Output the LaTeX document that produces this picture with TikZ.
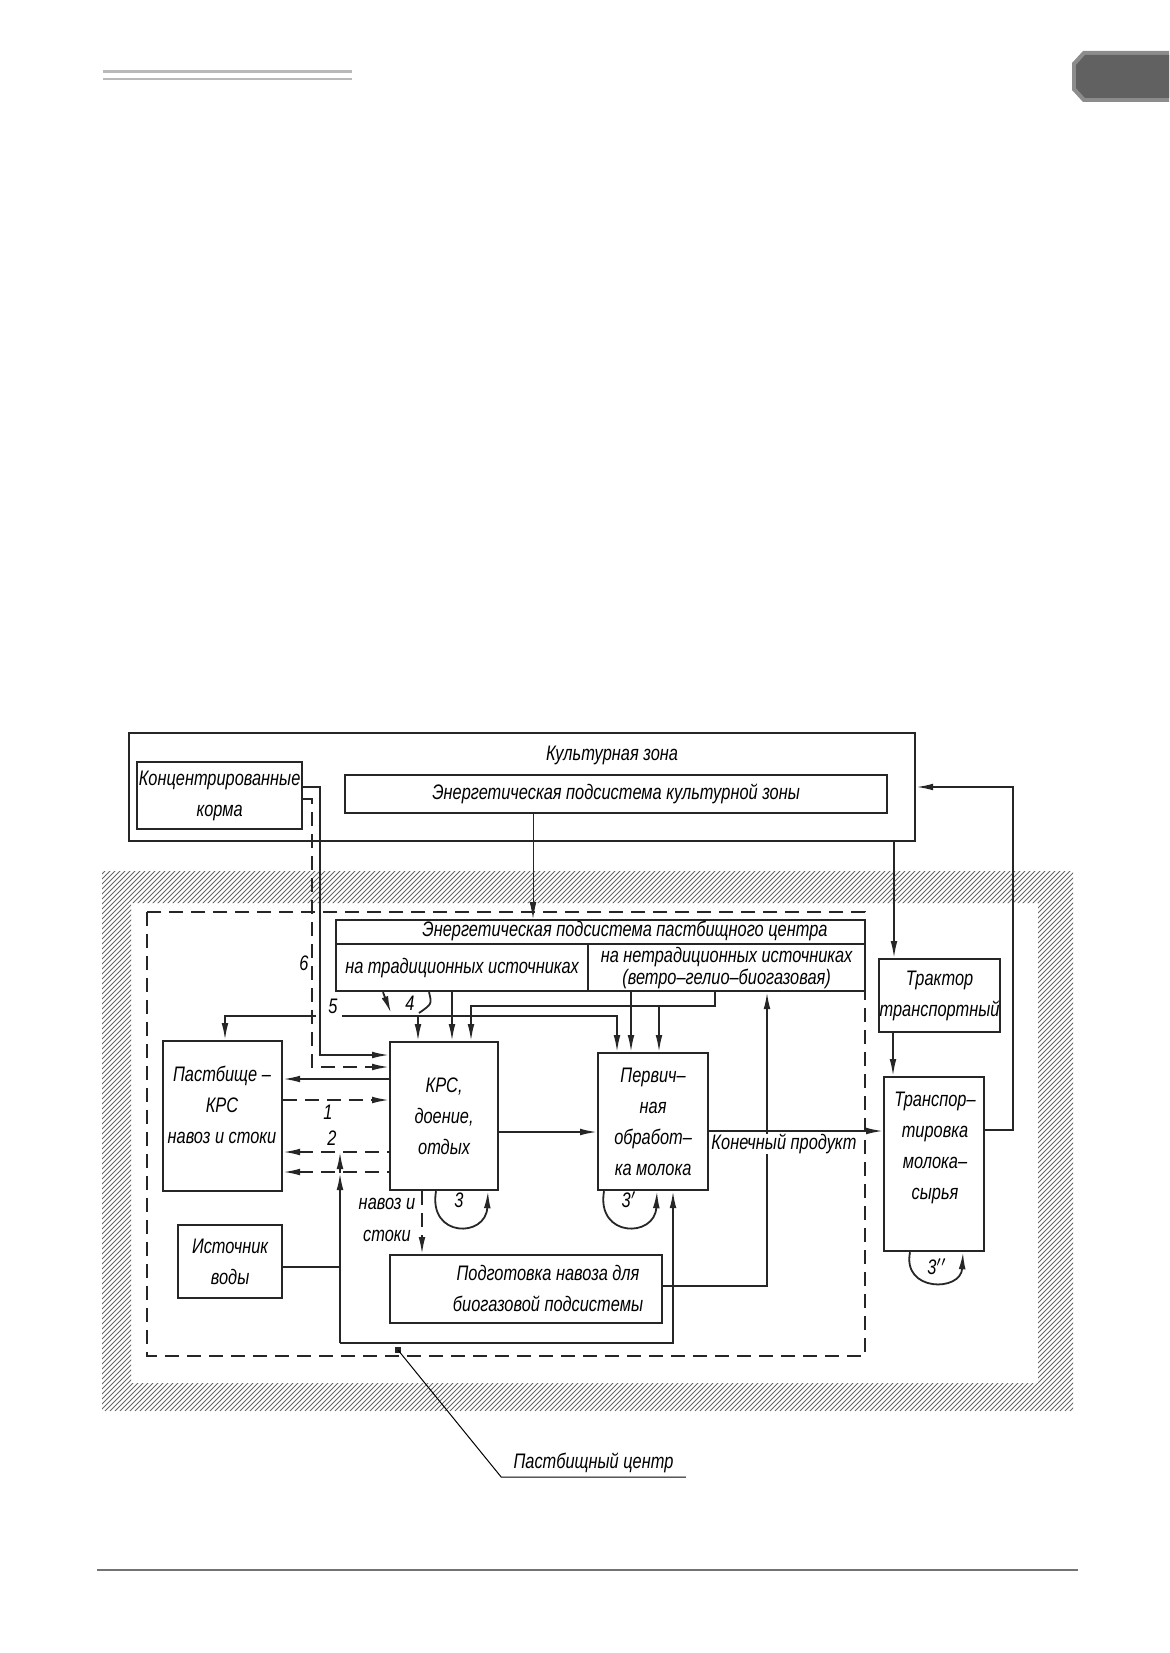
\documentclass[tikz,border=0pt]{standalone}
\usepackage{fontspec}
\newfontfamily\gost{Liberation Sans}[FakeStretch=0.78]
\newcommand{\gostfont}{\gost\itshape\fontsize{10.5}{15.5}\selectfont}
\usetikzlibrary{arrows.meta}

\tikzset{
  blok/.style={draw=black!85, line width=1.1pt, anchor=north west, inner sep=0pt,
    align=center, font=\gostfont},
  lbl/.style={font=\gostfont, inner sep=1pt, align=center},
  ln/.style={draw=black!85, line width=0.9pt},
  arr/.style={ln, -{Latex[length=8.5pt,width=3.4pt]}},
  dsh/.style={dash pattern=on 7pt off 4pt},
  hatch/.style={draw=black!60, line width=0.4pt},
}

\begin{document}
\begin{tikzpicture}[x=0.5pt,y=-0.5pt]
  \useasboundingbox (0,0) rectangle (1169,1653);

  % page decoration
  \draw[gray!55, line width=1.5pt] (103,72) -- (352,72);
  \draw[gray!55, line width=1pt] (103,79) -- (352,79);
  \fill[black!45] (1083,51) -- (1169,51) -- (1169,102) -- (1083,102) -- (1072,90) -- (1072,63) -- cycle;
  \fill[black!62] (1085,55) -- (1169,55) -- (1169,98) -- (1085,98) -- (1076,88) -- (1076,65) -- cycle;
  \draw[black!55, line width=1.3pt] (97,1570) -- (1078,1570);

  % hatched border of the pasture centre
  \begin{scope}[even odd rule]
    \clip (102,871) rectangle (1073,1411) (131,903) rectangle (1038,1383);
    \foreach \k in {0,...,310}
      \draw[hatch] ({-440+5*\k},1411) -- ++(545,-545);
  \end{scope}
  \draw[ln, dsh, line width=1pt] (147,912) rectangle (865,1356);

  % cultural zone
  \node[blok, minimum width=393pt, minimum height=54pt] (cult) at (128,732) {};
  \node[lbl] (cultlbl) at (612,755) {Культурная зона};
  \node[blok, minimum width=82.5pt, minimum height=33.5pt] (konc) at (136,761) {Концентрированные\\корма};
  \node[blok, minimum width=271pt, minimum height=19pt] (encult) at (344,774) {Энергетическая подсистема культурной зоны};

  % energy subsystem of the pasture centre
  \node[blok, minimum width=264.5pt, minimum height=12pt] (entitle) at (335,919) {};
  \node[lbl] (entitlelbl) at (625,931) {Энергетическая подсистема пастбищного центра};
  \node[blok, minimum width=126pt, minimum height=23.5pt] (entrad) at (335,943) {на традиционных источниках};
  \node[blok, minimum width=138.5pt, minimum height=23.5pt] (ennetrad) at (587,943)
    {на нетрадиционных источниках\\[-4.5pt](ветро–гелио–биогазовая)};

  % blocks
  \node[blok, minimum width=59.5pt, minimum height=75pt] (past) at (162,1040) {};
  \node[lbl] (pastlbl) at (222,1105) {Пастбище –\\КРС\\навоз и стоки};
  \node[blok, minimum width=54pt, minimum height=74pt] (krs) at (389,1041) {КРС,\\доение,\\отдых};
  \node[blok, minimum width=55pt, minimum height=68.5pt] (perv) at (597,1052) {Первич–\\ная\\обработ–\\ка молока};
  \node[blok, minimum width=52pt, minimum height=36.5pt] (water) at (177,1224) {Источник\\воды};
  \node[blok, minimum width=136pt, minimum height=34pt] (podg) at (389,1254) {};
  \node[lbl] (podglbl) at (548,1288) {Подготовка навоза для\\биогазовой подсистемы};
  \node[blok, minimum width=60.5pt, minimum height=36.5pt] (tract) at (878,958) {Трактор\\транспортный};
  \node[blok, minimum width=50pt, minimum height=87pt] (trans) at (883,1076) {};
  \node[lbl] (translbl) at (935,1148) {Транспор–\\тировка\\молока–\\сырья};

  % feed (6)
  \draw[arr] (konc.east |- 0,787) -| (320,1055) -- (krs.west |- 0,1055);
  \draw[arr, dsh] (konc.east |- 0,799) -| (312,1067) -- (krs.west |- 0,1067);
  \node[lbl] at (304,963) {6};

  % energy
  \draw[arr, line width=0.5pt] (encult.south -| 533,0) -- (entitle.north -| 533,0);
  \draw[arr] (entrad.south -| 452,0) -- (krs.north -| 452,0);
  \draw[arr] (ennetrad.south -| 715,0) -- (715,1006) -- (471,1006) -- (krs.north -| 471,0);
  \draw[arr] (659,1006) -- (perv.north -| 659,0);
  \draw[arr] (ennetrad.south -| 631,0) -- (perv.north -| 631,0);
  \draw[arr] (entrad.south -| 383,0) -- (391,1013);
  \draw[ln] (entrad.south -| 429,0) .. controls (432,1004) .. (419,1013);
  \node[lbl] at (410,1003) {4};
  \draw[arr] (316,1016) -- (225,1016) -- (past.north -| 225,0);
  \draw[arr] (342,1016) -- (617,1016) -- (perv.north -| 617,0);
  \draw[arr] (418,1016) -- (krs.north -| 418,0);
  \node[lbl] at (333,1006) {5};

  % pasture <-> cattle
  \draw[arr] (krs.west |- 0,1079) -- (past.east |- 0,1079);
  \draw[arr, dsh] (past.east |- 0,1100) -- (krs.west |- 0,1100);
  \node[lbl] at (328,1112) {1};
  \draw[arr, dsh, {Latex[length=8.5pt,width=3.4pt]}-] (past.east |- 0,1152) -- (krs.west |- 0,1152);
  \draw[arr, dsh, {Latex[length=8.5pt,width=3.4pt]}-] (past.east |- 0,1172) -- (krs.west |- 0,1172);
  \node[lbl] at (332,1138) {2};

  % water
  \coordinate (loopl) at (340,1343);
  \coordinate (loopr) at (673,1343);
  \draw[ln] (water.east |- 0,1267) -- (340,1267);
  \draw[arr] (loopl) -- (340,1173);
  \draw[arr] (340,1173) -- (340,1152);
  \draw[arr] (loopl) -- (loopr) -- (perv.south -| 673,0);

  % milk and manure
  \draw[arr] (krs.east |- 0,1132) -- (perv.west |- 0,1132);
  \draw[arr, dsh] (krs.south -| 422,0) -- (podg.north -| 422,0);
  \node[lbl] at (387,1204) {навоз и};
  \node[lbl] at (387,1236) {стоки};
  \draw[arr] (podg.east |- 0,1286) -| (ennetrad.south -| 767,0);
  \draw[arr] (perv.east |- 0,1131) -- (trans.west |- 0,1131);
  \node[lbl, fill=white, inner sep=0pt] at (784,1144) {Конечный продукт};

  % loops 3
  \draw[arr] (krs.south -| 436,0) .. controls (428,1238) and (486,1238) .. (krs.south -| 488,0);
  \node[lbl] at (459,1200) {3};
  \draw[arr] (perv.south -| 604,0) .. controls (596,1238) and (655,1238) .. (perv.south -| 657,0);
  \node[lbl] at (629,1200) {3$'$};
  \draw[arr] (trans.south -| 910,0) .. controls (902,1292) and (961,1292) .. (trans.south -| 963,0);
  \node[lbl] at (937,1267) {3$''$};

  % transport
  \draw[arr] (cult.south -| 894,0) -- (tract.north -| 894,0);
  \draw[arr] (tract.south -| 893,0) -- (trans.north -| 893,0);
  \draw[arr] (trans.east |- 0,1130) -- (1013,1130) -- (1013,787) -- (cult.east |- 0,787);

  % pasture centre label
  \fill[black!85] (395,1347) rectangle (401,1353);
  \coordinate (pcdot) at (398,1350);
  \node[lbl, anchor=south, inner xsep=6pt, inner ysep=2pt] (pclbl) at (593.5,1477) {Пастбищный центр};
  \draw[line width=0.5pt] (pcdot) -- (pclbl.south west) -- (pclbl.south east);
\end{tikzpicture}
\end{document}
